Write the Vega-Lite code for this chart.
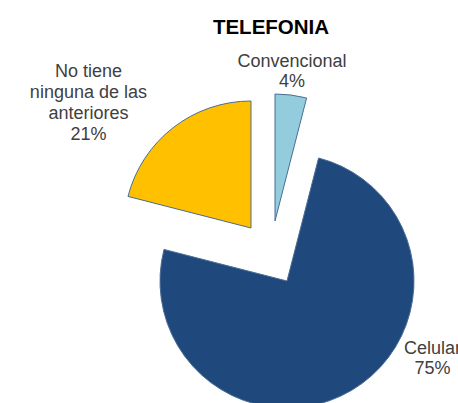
{
  "$schema": "https://vega.github.io/schema/vega-lite/v6.json",
  "autosize": {"type": "none"},
  "width": 254,
  "height": 254,
  "padding": {"left": 144, "top": 126, "right": 60, "bottom": 23},
  "background": "white",
  "title": {
    "text": "TELEFONIA",
    "font": "Liberation Sans",
    "fontSize": 20.5,
    "fontWeight": "bold",
    "color": "#000000",
    "anchor": "middle",
    "frame": "group",
    "offset": 15
  },
  "data": {
    "values": [
      {"categoria": "Convencional", "etiqueta": "Convencional\n4%", "valor": 4},
      {"categoria": "Celular", "etiqueta": "Celular\n75%", "valor": 75},
      {"categoria": "No tiene ninguna de las anteriores", "etiqueta": "No tiene\nninguna de las\nanteriores\n21%", "valor": 21}
    ]
  },
  "transform": [
    {"stack": "valor", "groupby": [], "as": ["v0", "v1"]},
    {"calculate": "(datum.v0 + datum.v1) / 2", "as": "mid"}
  ],
  "encoding": {
    "color": {
      "field": "categoria",
      "type": "nominal",
      "scale": {
        "domain": ["Convencional", "Celular", "No tiene ninguna de las anteriores"],
        "range": ["#93CDDD", "#1F497D", "#FFC000"]
      },
      "legend": null
    }
  },
  "layer": [
    {
      "transform": [{"filter": "datum.categoria === 'Convencional'"}],
      "mark": {"type": "arc", "xOffset": 4, "yOffset": -32, "stroke": "#4A6D94", "strokeWidth": 1},
      "encoding": {
        "theta": {"field": "v0", "type": "quantitative", "scale": {"domain": [0, 100]}},
        "theta2": {"field": "v1"}
      }
    },
    {
      "transform": [{"filter": "datum.categoria === 'Celular'"}],
      "mark": {"type": "arc", "xOffset": 16, "yOffset": 28, "stroke": "#4A6D94", "strokeWidth": 1},
      "encoding": {
        "theta": {"field": "v0", "type": "quantitative", "scale": {"domain": [0, 100]}},
        "theta2": {"field": "v1"}
      }
    },
    {
      "transform": [{"filter": "datum.categoria === 'No tiene ninguna de las anteriores'"}],
      "mark": {"type": "arc", "xOffset": -20, "yOffset": -25, "stroke": "#4A6D94", "strokeWidth": 1},
      "encoding": {
        "theta": {"field": "v0", "type": "quantitative", "scale": {"domain": [0, 100]}},
        "theta2": {"field": "v1"}
      }
    },
    {
      "transform": [{"filter": "datum.categoria === 'Convencional'"}],
      "mark": {"type": "text", "radius": 184, "dx": -2, "dy": -8, "font": "Liberation Sans", "fontSize": 18, "lineHeight": 20, "lineBreak": "\n", "align": "center", "baseline": "middle"},
      "encoding": {
        "theta": {"field": "mid", "type": "quantitative", "scale": {"domain": [0, 100]}},
        "text": {"field": "etiqueta"},
        "color": {"value": "#404040"}
      }
    },
    {
      "transform": [{"filter": "datum.categoria === 'Celular'"}],
      "mark": {"type": "text", "radius": 170, "dx": 75, "dy": -50, "font": "Liberation Sans", "fontSize": 18, "lineHeight": 20, "lineBreak": "\n", "align": "center", "baseline": "middle"},
      "encoding": {
        "theta": {"field": "mid", "type": "quantitative", "scale": {"domain": [0, 100]}},
        "text": {"field": "etiqueta"},
        "color": {"value": "#404040"}
      }
    },
    {
      "transform": [{"filter": "datum.categoria === 'No tiene ninguna de las anteriores'"}],
      "mark": {"type": "text", "radius": 200, "dx": -60, "dy": -23, "font": "Liberation Sans", "fontSize": 18, "lineHeight": 21, "lineBreak": "\n", "align": "center", "baseline": "middle"},
      "encoding": {
        "theta": {"field": "mid", "type": "quantitative", "scale": {"domain": [0, 100]}},
        "text": {"field": "etiqueta"},
        "color": {"value": "#404040"}
      }
    }
  ],
  "config": {"view": {"stroke": null}}
}
